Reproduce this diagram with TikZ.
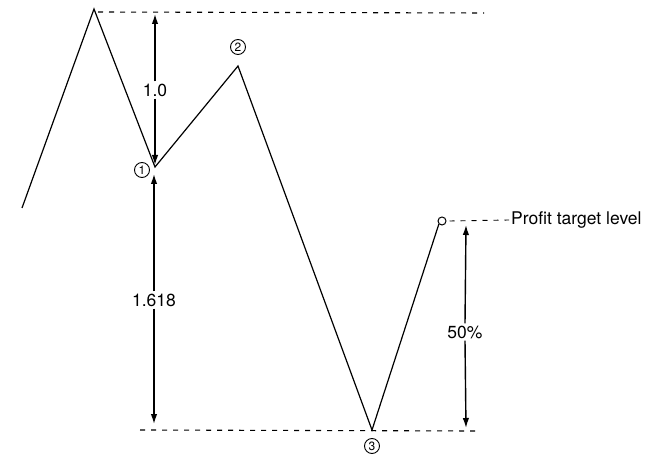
\documentclass[tikz,border=0pt]{standalone}
\usepackage{fontspec}
\setmainfont{TeX Gyre Heros}
\usetikzlibrary{arrows.meta}
\begin{document}
\begin{tikzpicture}[x=1pt,y=-1pt,
  price/.style={line width=1.2pt,line join=miter},
  level/.style={line width=1.1pt,dash pattern=on 5pt off 6pt},
  dimarrow/.style={line width=1.4pt,-{Latex[length=10pt,width=6.5pt]}},
  lbl/.style={font=\fontsize{17.5}{19}\selectfont,inner sep=2pt},
  wave/.style={draw,circle,line width=0.9pt,inner sep=0pt,minimum size=15pt,font=\fontsize{12}{13}\selectfont}]
\useasboundingbox (0,0) rectangle (656,457);
% zigzag points
\coordinate (s) at (22,208);
\coordinate (p0) at (94,9);
\coordinate (p1) at (155,167);
\coordinate (p2) at (238,66);
\coordinate (p3) at (372,430);
\node[draw,circle,line width=1pt,inner sep=0pt,minimum size=8pt] (tg) at (442,221) {};
\draw[price] (s) -- (p0) -- (p1) -- (p2) -- (p3) -- (tg.south west);
% level lines
\coordinate (topL) at (98,12);
\coordinate (topR) at (484,13);
\coordinate (botL) at (140,430);
\coordinate (botR) at (477,431);
\draw[level] (topL) -- (topR);
\draw[level] (botL) -- (botR);
\node[lbl,anchor=west] (ptl) at (509,220) {Profit target level};
\draw[level,line width=0.9pt] (tg.east) ++(3,0) coordinate (tgd) -- (ptl.west);
% wave labels
\node[wave] (w1) at (142,170) {1};
\node[wave] (w2) at (238,47) {2};
\node[wave] (w3) at (372,446) {3};
% 1.0 arrow
\coordinate (a1t) at (155,14);
\coordinate (a1b) at (155,165);
\node[lbl] (l1) at (155,90) {1.0};
\draw[dimarrow] (l1.north) -- (a1t);
\draw[dimarrow] (l1.south) -- (a1b);
% 1.618 arrow
\coordinate (a2t) at (154,174);
\coordinate (a2b) at (154,424);
\node[lbl] (l2) at (154,300) {1.618};
\draw[dimarrow] (l2.north) -- (a2t);
\draw[dimarrow] (l2.south) -- (a2b);
% 50% arrow
\coordinate (a3t) at (466,225);
\coordinate (a3b) at (466,428);
\node[lbl] (l3) at (465,332) {50\%};
\draw[dimarrow] (l3.north) -- (a3t);
\draw[dimarrow] (l3.south) -- (a3b);
\end{tikzpicture}
\end{document}
